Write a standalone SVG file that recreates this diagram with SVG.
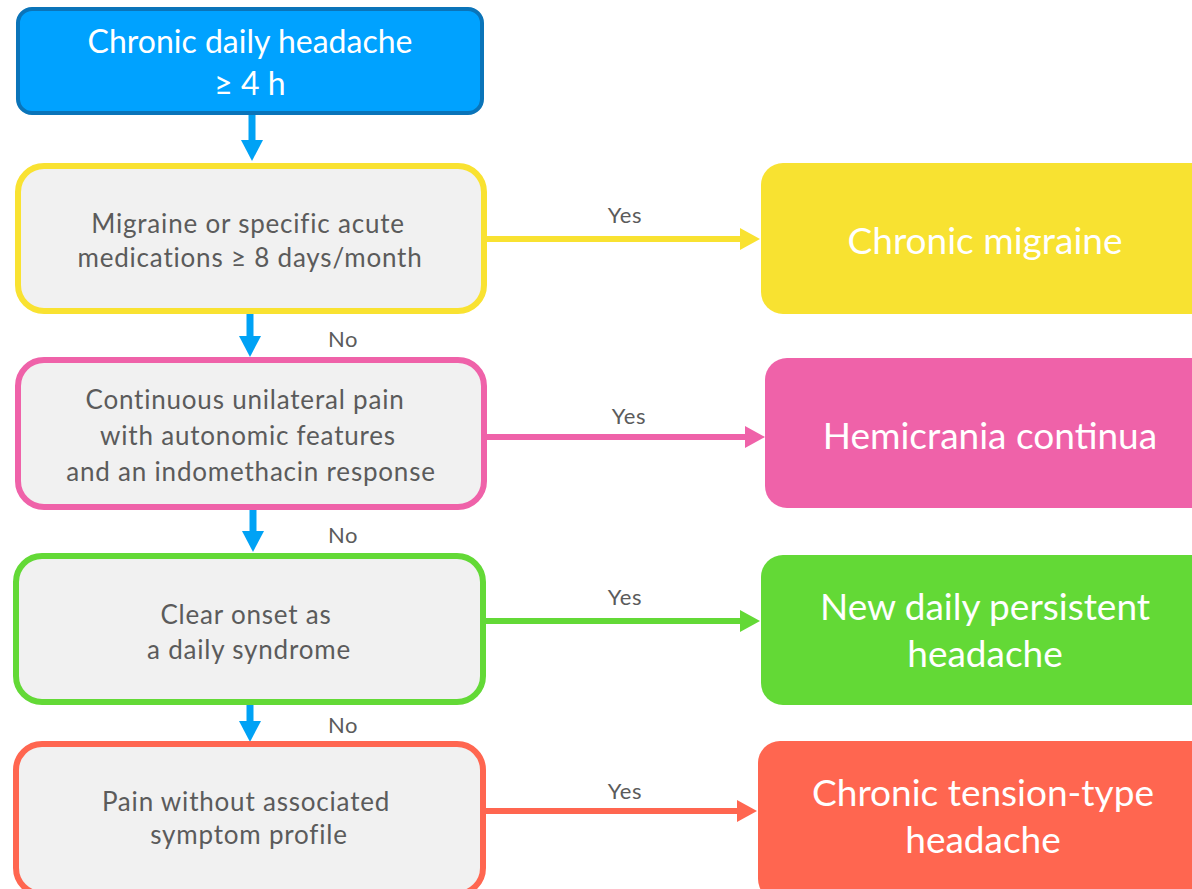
<svg xmlns="http://www.w3.org/2000/svg" width="1192" height="889" viewBox="0 0 1192 889">
  <style>
    .q { fill: #f1f1f1; stroke-width: 6; }
    .qt { font-family: Lato, "Liberation Sans", sans-serif; font-size: 26px; letter-spacing: 0.8px; fill: #5b5b5b; text-anchor: middle; }
    .rt { font-family: Lato, "Liberation Sans", sans-serif; font-size: 37px; fill: #ffffff; text-anchor: middle; }
    .st { font-family: Lato, "Liberation Sans", sans-serif; font-size: 32px; fill: #ffffff; text-anchor: middle; }
    .lbl { font-family: Lato, "Liberation Sans", sans-serif; font-size: 22px; letter-spacing: 0.6px; fill: #5b5b5b; text-anchor: middle; }
    .down { stroke: #00a2f5; stroke-width: 7; fill: none; }
    .yes { stroke-width: 6; fill: none; }
  </style>
  <defs>
    <marker id="ah-blue" markerUnits="userSpaceOnUse" markerWidth="24" markerHeight="22" refX="1" refY="11" orient="auto">
      <path d="M0,0 L21,11 L0,22 Z" fill="#00a2f5"/>
    </marker>
    <marker id="ah-yellow" markerUnits="userSpaceOnUse" markerWidth="24" markerHeight="22" refX="1" refY="11" orient="auto">
      <path d="M0,0 L20,11 L0,22 Z" fill="#f9e231"/>
    </marker>
    <marker id="ah-pink" markerUnits="userSpaceOnUse" markerWidth="24" markerHeight="22" refX="1" refY="11" orient="auto">
      <path d="M0,0 L20,11 L0,22 Z" fill="#ef62a9"/>
    </marker>
    <marker id="ah-green" markerUnits="userSpaceOnUse" markerWidth="24" markerHeight="22" refX="1" refY="11" orient="auto">
      <path d="M0,0 L20,11 L0,22 Z" fill="#63d936"/>
    </marker>
    <marker id="ah-red" markerUnits="userSpaceOnUse" markerWidth="24" markerHeight="22" refX="1" refY="11" orient="auto">
      <path d="M0,0 L20,11 L0,22 Z" fill="#ff6650"/>
    </marker>
  </defs>

  <rect width="1192" height="889" fill="#ffffff"/>

  <!-- connectors -->
  <g id="connectors">
    <line class="down" x1="252" y1="114" x2="252" y2="141" marker-end="url(#ah-blue)"/>
    <line class="down" x1="250" y1="313" x2="250" y2="337" marker-end="url(#ah-blue)"/>
    <line class="down" x1="253" y1="509" x2="253" y2="532" marker-end="url(#ah-blue)"/>
    <line class="down" x1="250" y1="704" x2="250" y2="722" marker-end="url(#ah-blue)"/>
    <text class="lbl" x="343" y="347">No</text>
    <text class="lbl" x="343" y="543">No</text>
    <text class="lbl" x="343" y="733">No</text>

    <line class="yes" stroke="#f9e231" x1="485" y1="239" x2="741" y2="239" marker-end="url(#ah-yellow)"/>
    <line class="yes" stroke="#ef62a9" x1="485" y1="437" x2="746" y2="437" marker-end="url(#ah-pink)"/>
    <line class="yes" stroke="#63d936" x1="485" y1="621" x2="741" y2="621" marker-end="url(#ah-green)"/>
    <line class="yes" stroke="#ff6650" x1="485" y1="811" x2="738" y2="811" marker-end="url(#ah-red)"/>
    <text class="lbl" x="625" y="223">Yes</text>
    <text class="lbl" x="629" y="424">Yes</text>
    <text class="lbl" x="625" y="605">Yes</text>
    <text class="lbl" x="625" y="799">Yes</text>
  </g>

  <!-- start -->
  <g id="start">
    <rect x="18" y="9" width="464" height="104" rx="14" fill="#00a2ff" stroke="#0a74b9" stroke-width="4"/>
    <text class="st" x="250" y="53">Chronic daily headache</text>
    <text class="st" x="250" y="95">≥ 4 h</text>
  </g>

  <!-- decisions -->
  <g id="q-migraine">
    <rect class="q" x="18" y="166" width="466" height="145" rx="26" stroke="#f9e231"/>
    <text class="qt" x="248" y="233">Migraine or specific acute</text>
    <text class="qt" x="250" y="267">medications ≥ 8 days/month</text>
  </g>
  <g id="q-hemicrania">
    <rect class="q" x="18" y="360" width="466" height="147" rx="26" stroke="#ef62a9"/>
    <text class="qt" x="245" y="409">Continuous unilateral pain</text>
    <text class="qt" x="248" y="445">with autonomic features</text>
    <text class="qt" x="251" y="481">and an indomethacin response</text>
  </g>
  <g id="q-ndph">
    <rect class="q" x="16" y="556" width="467" height="146" rx="26" stroke="#63d936"/>
    <text class="qt" x="246" y="624">Clear onset as</text>
    <text class="qt" x="249" y="659">a daily syndrome</text>
  </g>
  <g id="q-ctth">
    <rect class="q" x="16" y="744" width="467" height="150" rx="26" stroke="#ff6650"/>
    <text class="qt" x="246" y="811">Pain without associated</text>
    <text class="qt" x="249" y="844">symptom profile</text>
  </g>

  <!-- outcomes -->
  <g id="r-migraine">
    <rect x="761" y="163" width="460" height="151" rx="22" fill="#f8e231"/>
    <text class="rt" x="985" y="254">Chronic migraine</text>
  </g>
  <g id="r-hemicrania">
    <rect x="765" y="358" width="456" height="150" rx="22" fill="#ef62a9"/>
    <text class="rt" x="990" y="449">Hemicrania continua</text>
  </g>
  <g id="r-ndph">
    <rect x="761" y="555" width="460" height="150" rx="22" fill="#63d936"/>
    <text class="rt" x="985" y="620">New daily persistent</text>
    <text class="rt" x="985" y="667">headache</text>
  </g>
  <g id="r-ctth">
    <rect x="758" y="741" width="463" height="160" rx="22" fill="#ff6650"/>
    <text class="rt" x="983" y="806">Chronic tension-type</text>
    <text class="rt" x="983" y="853">headache</text>
  </g>
</svg>
